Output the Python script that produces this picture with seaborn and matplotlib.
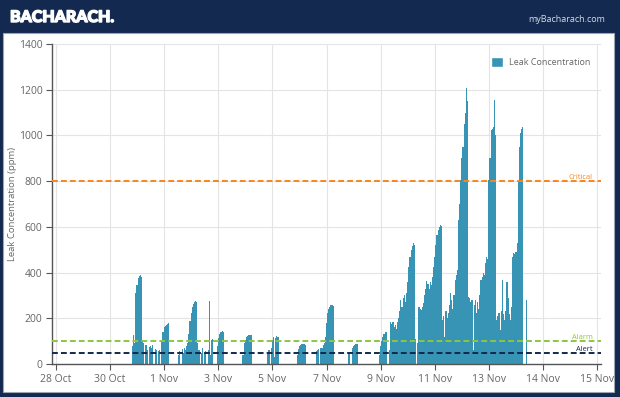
import numpy as np
import pandas as pd
import matplotlib.pyplot as plt
import matplotlib.patheffects as pe
import seaborn as sns
from matplotlib.patches import Rectangle, Patch

# hourly leak readings (ppm); each burst starts at the given hour after 28 Oct 00:00
oct31_start = 68
oct31_ppm = [80, 125, 90, 310, 345, 375, 385, 388, 380, 100, 90, 0, 85, 60, 0,
             75, 80, 70, 85, 0, 65, 60, 0, 55, 60, 0,
             100, 140, 160, 168, 172, 176, 178, 0]
nov1_start = 108
nov1_ppm = [0, 40, 55, 0, 65, 50, 70, 60, 80, 90, 130, 190, 225, 250, 262, 270,
            275, 272, 90, 60, 0, 50, 70, 0, 45, 55, 0, 60, 275, 40, 105, 110, 0,
            0, 0, 80, 115, 130, 138, 142, 144, 140, 0]
nov4_start = 166
nov4_ppm = [40, 90, 105, 118, 124, 127, 127, 125, 0]
nov5_start = 188
nov5_ppm = [45, 60, 0, 70, 105, 118, 30, 115, 122, 120, 0]
nov6_start = 213
nov6_ppm = [0, 40, 65, 78, 84, 86, 88, 88, 85, 0]
nov7_start = 231
nov7_ppm = [55, 62, 65, 0, 68, 70, 85, 90, 120, 180, 222, 240, 250, 256, 258, 255, 0]
nov8_start = 260
nov8_ppm = [45, 0, 0, 70, 80, 85, 88, 86, 0]
nov9_start = 287
nov9_ppm = [40, 80, 100, 118, 130, 138, 140, 0, 0, 60, 184, 175, 184, 160, 170,
            155, 185, 200, 230, 280, 250, 290, 300, 270, 310, 360, 425, 470, 500,
            515, 529, 520, 110, 0, 90, 250, 240, 236, 250, 267, 300, 330, 363,
            350, 330, 360, 345, 380, 425, 470, 520, 565, 586, 600, 608, 605, 192,
            210, 120, 230, 200, 222, 260, 310, 280, 240, 300, 367, 390, 410, 630,
            700, 805, 900, 950, 1050, 1098, 1207, 1150, 293, 290, 270, 280, 60,
            260, 280, 222, 270, 240, 300, 367, 380, 398, 390, 440, 468, 460, 805,
            900, 1023, 1030, 1037, 1155, 1000, 192, 210, 222, 150, 230, 367, 220,
            192, 230, 360, 290, 220, 192, 250, 470, 485, 480, 490, 530, 805, 950,
            1010, 1030, 1037, 0, 0, 280, 0]

tick_labels = ["28 Oct", "30 Oct", "1 Nov", "3 Nov", "5 Nov", "7 Nov", "9 Nov",
               "11 Nov", "13 Nov", "14 Nov", "15 Nov"]
threshold_names = ["Critical", "Alarm", "Alert"]
threshold_ppm = [800, 100, 50]
threshold_colors = ["#f7861f", "#8dc63f", "#13294f"]

bursts = [(oct31_start, oct31_ppm), (nov1_start, nov1_ppm), (nov4_start, nov4_ppm),
          (nov5_start, nov5_ppm), (nov6_start, nov6_ppm), (nov7_start, nov7_ppm),
          (nov8_start, nov8_ppm), (nov9_start, nov9_ppm)]
df = pd.concat([pd.DataFrame({"hour": start + np.arange(len(vals)), "ppm": vals})
                for start, vals in bursts], ignore_index=True)

sns.set_style("whitegrid")
plt.rcParams["font.family"] = ["Open Sans", "DejaVu Sans"]

navy = "#13294f"
bar_color = "#3794b5"

fig = plt.figure(figsize=(6.2, 3.97), dpi=100)
fig.patch.set_facecolor(navy)
panel = Rectangle((3 / 620, 5 / 397), 611 / 620, 359 / 397,
                  transform=fig.transFigure, facecolor="white",
                  edgecolor="#9aa5b5", linewidth=0.8, zorder=-10)
fig.add_artist(panel)
fig.text(10 / 620, 1 - 17 / 397, "BACHARACH.", color="white", fontsize=11.5,
         fontweight="black", family=["Lato", "DejaVu Sans"], va="center",
         path_effects=[pe.withStroke(linewidth=1.0, foreground="white")])
fig.text(605 / 620, 1 - 19 / 397, "myBacharach.com", color="#d5dce6", fontsize=6.5,
         ha="right", va="center")

ax = fig.add_axes([52 / 620, 1 - 364 / 397, 549 / 620, 320 / 397])
ax.set_zorder(1)
ax.set_facecolor("none")

sns.histplot(data=df, x="hour", weights="ppm", discrete=True, color=bar_color,
             alpha=1, linewidth=0, ax=ax, zorder=2)

for name, val, col in zip(threshold_names, threshold_ppm, threshold_colors):
    ax.axhline(val, color=col, linewidth=1.4, linestyle=(0, (3, 1.6)), zorder=3)
    ax.text(0.985, val, name, transform=ax.get_yaxis_transform(), color=col,
            fontsize=5.4, ha="right", va="bottom", zorder=4)

ax.set_xlim(-3.4, 483.4)
ax.set_ylim(0, 1400)
ax.set_xticks(np.arange(len(tick_labels)) * 48)
ax.set_xticklabels(tick_labels)
ax.set_yticks(np.arange(0, 1401, 200))
ax.set_xlabel("")
ax.set_ylabel("Leak Concentration (ppm)", color="#666666", fontsize=6.8)
ax.yaxis.set_label_coords(-0.064, 0.5)

ax.grid(True, color="#e4e4e4", linewidth=0.8)
ax.set_axisbelow(True)
for side in ["top", "right"]:
    ax.spines[side].set_visible(False)
for side in ["left", "bottom"]:
    ax.spines[side].set_color("#555555")
    ax.spines[side].set_linewidth(1)
ax.tick_params(axis="both", colors="#555555", labelcolor="#666666", labelsize=7.5,
               length=4, width=0.8, direction="out", left=True, bottom=True, pad=3)

ax.legend(handles=[Patch(facecolor=bar_color, label="Leak Concentration")],
          loc="upper right", bbox_to_anchor=(0.995, 0.985), frameon=False,
          handlelength=1.4, handleheight=1.4, handletextpad=0.6,
          labelcolor="#666666", fontsize=6.5)

plt.savefig("out.png", dpi=100, facecolor=fig.get_facecolor())
